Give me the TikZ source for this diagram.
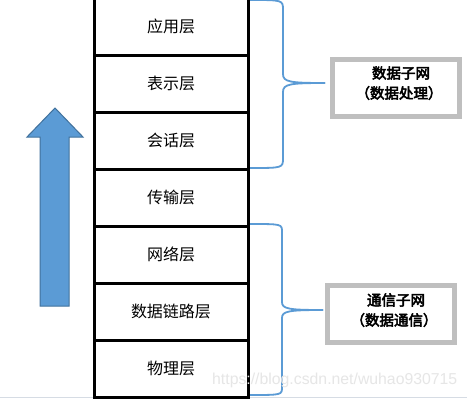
\documentclass[tikz,border=0pt]{standalone}
\usepackage{fontspec}
\newfontfamily\cjk{Noto Sans CJK SC}
\newfontfamily\cjkbold{Noto Sans CJK SC}[FakeBold=3.5]
\newfontfamily\wmfont{Liberation Sans}
\definecolor{arrowfill}{HTML}{5B9BD5}
\definecolor{arrowline}{HTML}{41719C}
\definecolor{bracecol}{HTML}{5B9BD5}
\definecolor{boxgray}{HTML}{BFBFBF}
\definecolor{wmgray}{HTML}{E6E6E6}
\definecolor{framecol}{HTML}{D6DCE4}
\tikzset{
  layer/.style={draw=black, line width=3pt, minimum width=154pt, minimum height=57pt, inner sep=0pt, font=\cjk\fontsize{16}{18}\selectfont},
  brace/.style={draw=bracecol, line width=1.8pt},
  netbox/.style={draw=boxgray, line width=5pt, fill=white},
  boxtext/.style={font=\cjkbold\fontsize{14.5}{16}\selectfont, inner sep=0pt},
}
\begin{document}
\begin{tikzpicture}[x=1pt,y=-1pt]
\useasboundingbox (0,0) rectangle (467,400);
\fill[white] (0,0) rectangle (467,400);
% faint frame line at the bottom
\draw[framecol, line width=1pt] (0,397.5) -- (467,397.5);
% upward arrow
\draw[fill=arrowfill, draw=arrowline, line width=1pt]
  (40,306) -- (40,137) -- (27,137) -- (55,108) -- (83,137) -- (69,137) -- (69,306) -- cycle;
% layers
\node[layer] (l7) at (171,26.5) {应用层};
\node[layer] (l6) at (171,83.5) {表示层};
\node[layer] (l5) at (171,140.5) {会话层};
\node[layer] (l4) at (171,197.5) {传输层};
\node[layer] (l3) at (171,254.5) {网络层};
\node[layer] (l2) at (171,311.5) {数据链路层};
\node[layer] (l1) at (171,368.5) {物理层};
% boxes
\node[netbox, minimum width=127pt, minimum height=57pt] (b1) at (396,88) {};
\node[boxtext] (t1a) at (401,73) {数据子网};
\node[boxtext] (t1b) at (399,93) {（数据处理）};
\node[netbox, minimum width=127pt, minimum height=57pt] (b2) at (391,314) {};
\node[boxtext] (t2a) at (396,300) {通信子网};
\node[boxtext] (t2b) at (394,320) {（数据通信）};
% braces
\coordinate (p1) at (325,83);
\coordinate (p2) at (323,310);
\draw[brace] (250,0) .. controls (283,0) .. (283,10) -- (283,74)
  .. controls (283,82) and (290,83) .. (p1);
\draw[brace] (p1) .. controls (290,83) and (283,84) .. (283,92) -- (283,158)
  .. controls (283,168) .. (250,168);
\draw[brace] (250,224) .. controls (282,224) .. (282,232) -- (282,302)
  .. controls (282,309) and (289,310) .. (p2);
\draw[brace] (p2) .. controls (289,310) and (282,311) .. (282,318) -- (282,387)
  .. controls (282,395) .. (250,395);
% watermark
\node[font=\wmfont\fontsize{15.8}{17}\selectfont, text=wmgray, inner sep=0pt, anchor=west] (wm) at (212,380) {https://blog.csdn.net/wuhao930715};
\end{tikzpicture}
\end{document}
